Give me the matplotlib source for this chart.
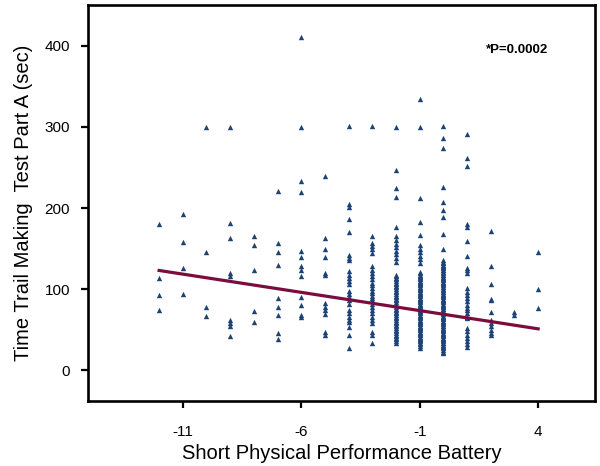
import matplotlib
matplotlib.use('Agg')
import matplotlib.pyplot as plt
import numpy as np

# SPPB score -> Trail Making Test Part A times (sec)
tmt = {
    -12: [180, 114, 93, 74],
    -11: [193, 158, 126, 94],
    -10: [300, 146, 78, 67],
    -9: [300, 182, 163, 120, 116, 62, 58, 55, 42],
    -8: [165, 155, 124, 73, 59],
    -7: [221, 157, 146, 130, 89, 78, 68, 46, 39],
    -6: [411, 300, 233, 220, 147, 140, 128, 123, 116, 90, 80, 68, 65],
    -5: [239, 163, 150, 139, 120, 117, 83, 78, 74, 69, 47, 43],
    -4: [301, 205, 201, 186, 171, 142, 138, 136, 122, 118, 114, 110, 106,
         98, 94, 90, 86, 82, 74, 70, 66, 62, 59, 53, 43, 27],
    -3: [301, 165, 157, 153, 149, 145, 128, 124, 120, 116, 112, 108, 105,
         101, 98, 95, 92, 89, 86, 82, 78, 74, 70, 66, 62, 58, 47, 43, 33],
    -2: [300, 247, 225, 214, 177, 165, 160, 156, 152, 147, 143, 138, 133,
         118, 116, 114, 112, 110, 108, 106, 104, 102, 100, 98, 96, 94, 92,
         90, 88, 86, 84, 82, 80, 78, 76, 74, 72, 70, 68, 66, 64, 62, 60, 58,
         56, 54, 52, 50, 48, 46, 44, 42, 40, 38, 36, 34],
    -1: [335, 300, 212, 183, 167, 154, 150, 146, 141, 137, 132, 121, 119.5,
         118, 116.5, 115, 113.5, 112, 110.5, 109, 107.5, 106, 104.5, 103,
         101.5, 100, 98.5, 97, 95.5, 94, 92.5, 91, 89.5, 88, 86.5, 85, 83.5,
         82, 80.5, 79, 77.5, 76, 74.5, 73, 71.5, 70, 68.5, 67, 65.5, 64,
         62.5, 61, 59.5, 58, 56.5, 55, 53.5, 52, 50.5, 49, 47.5, 46, 44.5,
         43, 41.5, 40, 38.5, 37, 35.5, 34, 32, 30, 27],
    0: [301, 286, 274, 226, 208, 197, 189, 168, 150, 136, 134, 132, 130,
        129, 127, 126, 124, 123, 121, 120, 118, 117, 115, 114, 112, 111, 109,
        108, 106, 105, 103, 102, 100, 99, 97, 96, 94, 93, 91, 90, 88, 87, 85,
        84, 82, 81, 79, 78, 76, 75, 73, 72, 70, 69, 67, 66, 64, 63, 61, 60,
        58, 57, 55, 54, 52, 51, 49, 48, 46, 45, 43, 42, 40, 39, 37, 36, 34,
        33, 31, 30, 28, 27, 25, 23, 21],
    1: [291, 262, 252, 180, 177, 159, 141, 126, 123, 120, 101, 97, 93, 89,
        85, 81, 77, 74, 70, 66, 64, 52, 48, 44, 40, 36, 32, 28],
    2: [172, 128, 106, 88, 86, 72, 62, 58, 54, 50, 46, 43],
    3: [72, 68],
    4: [146, 100, 77],
}

# fitted regression line: y = intercept + slope * x
fit_intercept = 69.0
fit_slope = -4.5
fit_x = [-12, 4]

xticks = [-11, -6, -1, 4]
yticks = [0, 100, 200, 300, 400]

plt.rcParams['font.family'] = ['Liberation Sans', 'DejaVu Sans']

fig = plt.figure(figsize=(6.0, 4.66), dpi=100)
ax = fig.add_axes([0.1467, 0.1395, 0.845, 0.849])

xs = []
ys = []
for k, vals in tmt.items():
    xs += [k] * len(vals)
    ys += vals

ax.scatter(xs, ys, marker='^', s=15, color='#1c4377', linewidths=0, zorder=2)

lx = np.array(fit_x)
ax.plot(lx, fit_intercept + fit_slope * lx, color='#7b0d3e', lw=2.3, zorder=3)

ax.text(1.8, 395, '*P=0.0002', fontsize=9.5, fontweight='bold', va='center', ha='left')

ax.set_xlim(-15, 6.4)
ax.set_ylim(-38, 450)
ax.set_xticks(xticks)
ax.set_yticks(yticks)
ax.set_xticklabels([str(t) for t in xticks])

for s in ax.spines.values():
    s.set_linewidth(1.9)
ax.tick_params(direction='out', length=5, width=1.6, labelsize=11)
ax.tick_params(axis='x', pad=12)
ax.tick_params(axis='y', pad=8)

ax.set_xlabel('Short Physical Performance Battery', fontsize=14.5, labelpad=4)
ax.set_ylabel('Time Trail Making  Test Part A (sec)', fontsize=14.5, labelpad=8)

fig.savefig('out.png', dpi=100)
